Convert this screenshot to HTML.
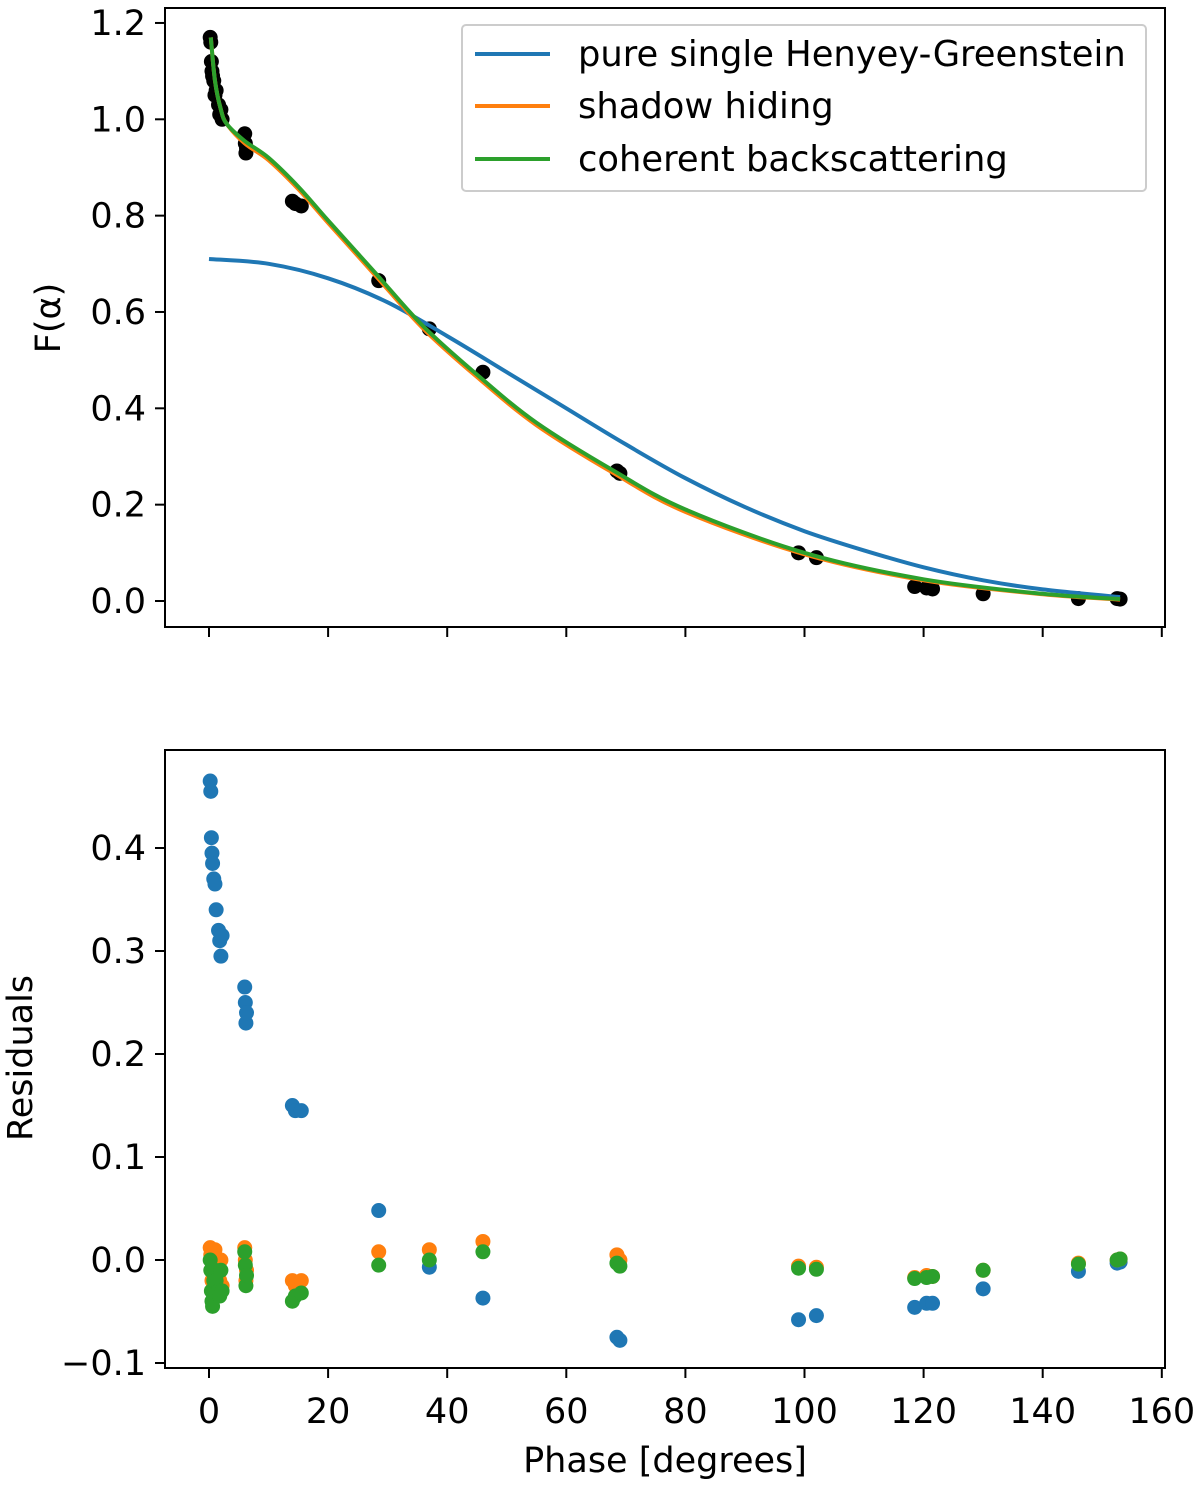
<!DOCTYPE html>
<html><head><meta charset="utf-8"><style>body{margin:0;background:#fff}svg{display:block;font-family:"DejaVu Sans","Liberation Sans",sans-serif}</style></head>
<body>
<svg id="c" width="1200" height="1485"></svg>
<script>
const phase=[0.2,0.3,0.4,0.5,0.6,0.8,1.0,1.2,1.6,1.8,2.0,2.2,6.0,6.1,6.2,6.3,14,14.5,15.5,28.5,37,46,68.5,69,99,102,118.5,120.5,121.5,130,146,152.5,153];
const obsF=[1.17,1.16,1.12,1.10,1.09,1.08,1.05,1.06,1.03,1.01,1.02,1.00,0.97,0.95,0.93,0.94,0.83,0.825,0.82,0.665,0.565,0.475,0.27,0.265,0.10,0.09,0.03,0.027,0.025,0.015,0.005,0.005,0.004];
const resHG=[0.465,0.455,0.41,0.395,0.385,0.37,0.365,0.34,0.32,0.31,0.295,0.315,0.265,0.25,0.23,0.24,0.15,0.145,0.145,0.048,-0.007,-0.037,-0.075,-0.078,-0.058,-0.054,-0.046,-0.042,-0.042,-0.028,-0.011,-0.003,-0.002];
const resSH=[0.012,0.005,-0.01,-0.02,-0.02,0.0,0.01,-0.005,-0.01,-0.02,0.0,-0.025,0.012,0.0,-0.02,-0.01,-0.02,-0.025,-0.02,0.008,0.01,0.018,0.005,0.0,-0.006,-0.007,-0.017,-0.015,-0.016,-0.01,-0.003,0.0,0.001];
const resCB=[0.0,-0.01,-0.03,-0.04,-0.045,-0.02,-0.01,-0.02,-0.03,-0.035,-0.01,-0.03,0.008,-0.005,-0.025,-0.015,-0.04,-0.035,-0.032,-0.005,0.0,0.008,-0.003,-0.006,-0.008,-0.009,-0.018,-0.017,-0.016,-0.01,-0.004,0.0,0.001];
const hgX=[0,10,20,30,40,50,60,70,80,90,100,110,120,130,140,153];
const hgY=[0.71,0.70,0.67,0.62,0.55,0.475,0.40,0.325,0.255,0.195,0.145,0.105,0.07,0.043,0.024,0.008];
const mX=[0.3,1,2,3,6,10,15,20,28,36,45,55,68,80,100,120,140,153];
const shY=[1.17,1.08,1.02,0.99,0.95,0.915,0.855,0.785,0.675,0.565,0.465,0.365,0.265,0.185,0.097,0.043,0.014,0.003];
const cbY=[1.17,1.08,1.02,0.99,0.955,0.92,0.86,0.79,0.68,0.57,0.47,0.37,0.27,0.19,0.10,0.045,0.015,0.004];
const xTicks=[0,20,40,60,80,100,120,140,160];
const topTicks=[0,0.2,0.4,0.6,0.8,1.0,1.2];
const botTicks=[-0.1,0,0.1,0.2,0.3,0.4];
const B='#1f77b4',O='#ff7f0e',G='#2ca02c';
const svg=document.getElementById('c');const NS='http://www.w3.org/2000/svg';
function el(t,a,p){const e=document.createElementNS(NS,t);for(const k in a)e.setAttribute(k,a[k]);(p||svg).appendChild(e);return e;}
const X=v=>209+v*5.955;
const Yt=v=>601-v*481.7;
const Yb=v=>1260-v*1030;
const FS=35;
function frame(y0,y1,name){const r=el('rect',{x:165,y:y0,width:1000,height:y1-y0,fill:'none',stroke:'#000','stroke-width':2});
xTicks.forEach(t=>{const l=el('line',{x1:X(t),x2:X(t),y1:y1,y2:y1+10,stroke:'#000','stroke-width':2});});}
frame(8,627,'top-axes');frame(750,1368,'bottom-axes');
function yt(ticks,Y){ticks.forEach(t=>{el('line',{x1:155,x2:165,y1:Y(t),y2:Y(t),stroke:'#000','stroke-width':2});const s=el('text',{x:146,y:Y(t)+12,'text-anchor':'end','font-size':FS});s.textContent=(t<0?'\u2212':'')+Math.abs(t).toFixed(1);});}
yt(topTicks,Yt);yt(botTicks,Yb);
xTicks.forEach(t=>{const s=el('text',{x:X(t),y:1423,'text-anchor':'middle','font-size':FS});s.textContent=t;});
let s=el('text',{x:665,y:1472,'text-anchor':'middle','font-size':FS});s.textContent='Phase [degrees]';
s=el('text',{x:0,y:0,'text-anchor':'middle','font-size':FS,transform:'translate(60,318) rotate(-90)'});s.textContent='F(\u03b1)';
s=el('text',{x:0,y:0,'text-anchor':'middle','font-size':FS,transform:'translate(32,1058) rotate(-90)'});s.textContent='Residuals';
phase.forEach((p,i)=>{const c=el('circle',{cx:X(p),cy:Yt(obsF[i]),r:7.5,fill:'#000'});});
function line(xs,ys,col,name){const P=xs.map((x,i)=>[X(x),Yt(ys[i])]);let d='M'+P[0][0].toFixed(1)+','+P[0][1].toFixed(1);
for(let i=0;i<P.length-1;i++){const p0=P[Math.max(0,i-1)],p1=P[i],p2=P[i+1],p3=P[Math.min(P.length-1,i+2)];
const c1=[p1[0]+(p2[0]-p0[0])/6,p1[1]+(p2[1]-p0[1])/6],c2=[p2[0]-(p3[0]-p1[0])/6,p2[1]-(p3[1]-p1[1])/6];
d+='C'+c1.map(v=>v.toFixed(1)).join(',')+' '+c2.map(v=>v.toFixed(1)).join(',')+' '+p2.map(v=>v.toFixed(1)).join(',');}
const p=el('path',{d:d,fill:'none',stroke:col,'stroke-width':4,'stroke-linejoin':'round'});}
line(hgX,hgY,B,'hg-curve');line(mX,shY,O,'shadow-hiding-curve');line(mX,cbY,G,'coherent-backscatter-curve');
[[resHG,B,'hg-residual'],[resSH,O,'sh-residual'],[resCB,G,'cb-residual']].forEach(([arr,col,n])=>{phase.forEach((p,i)=>{const c=el('circle',{cx:X(p),cy:Yb(arr[i]),r:7.5,fill:col});});});
const lg=el('g',{});
el('rect',{x:462,y:25,width:684,height:166,rx:4,fill:'#fff','fill-opacity':0.8,stroke:'#ccc','stroke-width':2},lg);
[['pure single Henyey-Greenstein',B,54],['shadow hiding',O,106],['coherent backscattering',G,159]].forEach(([t,c,y])=>{el('line',{x1:475,x2:550,y1:y,y2:y,stroke:c,'stroke-width':4},lg);const tx=el('text',{x:578,y:y+12,'font-size':35.3},lg);tx.textContent=t;});
</script>
</body></html>
